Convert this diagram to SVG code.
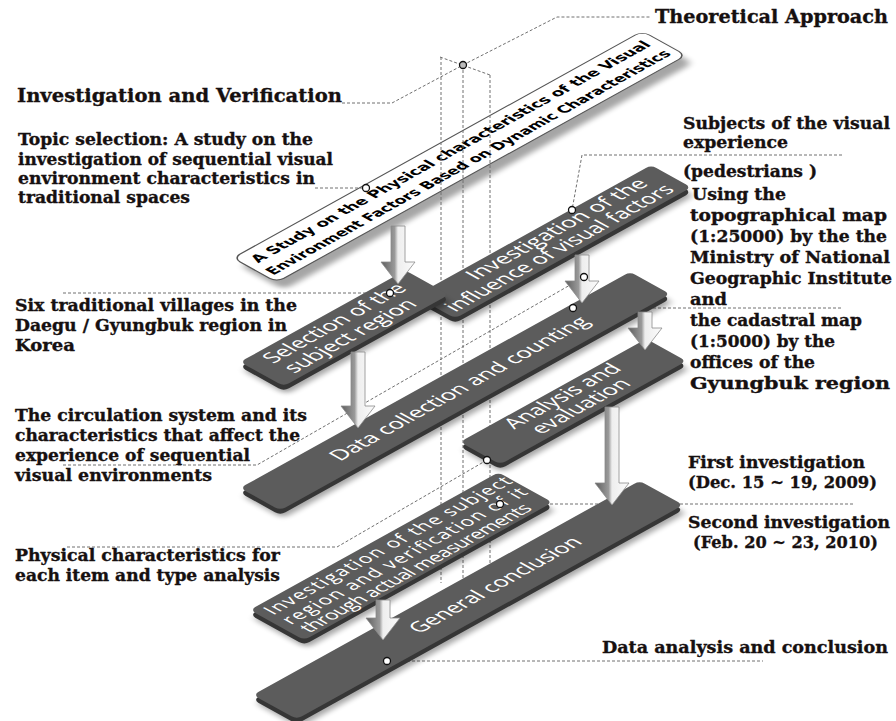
<svg xmlns="http://www.w3.org/2000/svg" width="896" height="721" viewBox="0 0 896 721">
<defs>
<style>
.lbl{font-family:"DejaVu Serif","Liberation Serif",serif;font-weight:bold;fill:#161010;stroke:#161010;stroke-width:0.35;font-size:16.5px}
.hd{font-size:19px}
.bt{font-family:"Open Sans","Noto Sans","DejaVu Sans",sans-serif;fill:#ffffff;font-size:21px;text-anchor:middle}
.bn{font-family:"DejaVu Sans","Liberation Sans",sans-serif;font-weight:bold;font-size:15px;fill:#000;text-anchor:middle}
.top{fill:#5c5c5c}
.side{fill:#363636}
.shd{fill:#000;opacity:.35;filter:url(#blur)}
.ln{fill:none;stroke:#707070;stroke-width:1;stroke-dasharray:3 2}
.dot{fill:#fff;stroke:#111;stroke-width:1.3}
.arr{fill:url(#ag);stroke:#8a8a8a;stroke-width:.8}
</style>
<filter id="blur" x="-20%" y="-60%" width="140%" height="220%"><feGaussianBlur stdDeviation="3"/></filter>
<linearGradient id="ag" x1="0" y1="0" x2="1" y2="0">
<stop offset="0" stop-color="#5e5e5e"/>
<stop offset="0.4" stop-color="#9a9a9a"/>
<stop offset="0.5" stop-color="#eeeeee"/>
<stop offset="1" stop-color="#fbfbfb"/>
</linearGradient>
</defs>
<rect width="896" height="721" fill="#fff"/>

<g id="banner" transform="matrix(0.8746 -0.4848 0.8746 0.4848 233 258)">
<rect class="shd" x="-4" y="12" width="468" height="50" rx="8"/>
<rect width="468" height="50" rx="8" fill="#fff" stroke="#555" stroke-width="1.3"/>
<text class="bn" x="234" y="20" textLength="450" lengthAdjust="spacingAndGlyphs">A Study on the Physical characteristics of the Visual</text>
<text class="bn" x="233" y="41" textLength="456" lengthAdjust="spacingAndGlyphs">Environment Factors Based on Dynamic Characteristics</text>
</g>

<g id="connectors">
<polyline class="ln" points="342,103 392,103 463,65"/>
<polyline class="ln" points="463,65 557,17 650,17"/>
<polyline class="ln" points="440,57 490,75"/>
<polyline class="ln" points="441,57 441,583"/>
<polyline class="ln" points="463,65 463,583"/>
<polyline class="ln" points="490,75 490,607"/>
<polyline class="ln" points="315,188 366,188"/>
<polyline class="ln" points="63,293 390,293"/>
<polyline class="ln" points="63,465 257,465 584,277"/>
<polyline class="ln" points="67,547 337,547 487,460"/>
<polyline class="ln" points="500,504 853,504"/>
<polyline class="ln" points="573,308 843,308"/>
<polyline class="ln" points="842,155 582,155 572,210"/>
<polyline class="ln" points="387,661 763,661"/>
</g>

<g id="invest-visual" transform="matrix(0.8746 -0.4848 0.8746 0.4848 415 296)">
<rect class="shd" x="-7" y="10" width="270" height="46" rx="6"/>
<rect class="side" x="-5" y="5" width="270" height="46" rx="6"/>
<rect class="top" width="270" height="46" rx="6"/>
<text class="bt" x="150" y="19" textLength="198" lengthAdjust="spacingAndGlyphs">Investigation of the</text>
<text class="bt" x="132" y="40" textLength="252" lengthAdjust="spacingAndGlyphs">influence of visual factors</text>
</g>

<g id="selection" transform="matrix(0.8746 -0.4848 0.8746 0.4848 240 362)">
<rect class="shd" x="-7" y="10" width="189" height="50" rx="6"/>
<rect class="side" x="-5" y="5" width="189" height="50" rx="6"/>
<rect class="top" width="189" height="50" rx="6"/>
<text class="bt" x="94" y="21" textLength="154" lengthAdjust="spacingAndGlyphs">Selection of the</text>
<text class="bt" x="90" y="43" textLength="142" lengthAdjust="spacingAndGlyphs">subject region</text>
</g>

<g id="data-collection" transform="matrix(0.8746 -0.4848 0.8746 0.4848 240 488)">
<rect class="shd" x="-7" y="10" width="446" height="46" rx="6"/>
<rect class="side" x="-5" y="5" width="446" height="46" rx="6"/>
<rect class="top" width="446" height="46" rx="6"/>
<text class="bt" x="228" y="30" textLength="287" lengthAdjust="spacingAndGlyphs">Data collection and counting</text>
</g>

<g id="analysis" transform="matrix(0.8746 -0.4848 0.8746 0.4848 460 442)">
<rect class="shd" x="-7" y="10" width="213" height="46" rx="6"/>
<rect class="side" x="-5" y="5" width="213" height="46" rx="6"/>
<rect class="top" width="213" height="46" rx="6"/>
<text class="bt" x="106" y="18" textLength="124" lengthAdjust="spacingAndGlyphs">Analysis and</text>
<text class="bt" x="106" y="39" textLength="104" lengthAdjust="spacingAndGlyphs">evaluation</text>
</g>

<g id="general-conclusion" transform="matrix(0.8746 -0.4848 0.8746 0.4848 253 695)">
<rect class="shd" x="-7" y="10" width="442" height="50" rx="6"/>
<rect class="side" x="-5" y="5" width="442" height="50" rx="6"/>
<rect class="top" width="442" height="50" rx="6"/>
<text class="bt" x="252" y="32" textLength="188" lengthAdjust="spacingAndGlyphs">General conclusion</text>
</g>

<g id="subject-region" transform="matrix(0.8746 -0.4848 0.8746 0.4848 250 610)">
<rect class="shd" x="-7" y="10" width="284" height="62" rx="6"/>
<rect class="side" x="-5" y="5" width="284" height="62" rx="6"/>
<rect class="top" width="284" height="62" rx="6"/>
<text class="bt" style="font-size:19px" x="145" y="19" textLength="275" lengthAdjust="spacing">Investigation  of  the  subject</text>
<text class="bt" style="font-size:19px" x="144" y="39" textLength="272" lengthAdjust="spacing">region  and  verification  of  it</text>
<text class="bt" style="font-size:19px" x="138" y="58" textLength="256" lengthAdjust="spacing">through actual measurements</text>
</g>

<g id="arrows">
<path class="arr" d="M391 226H405V262H415L398 284L381 262H391Z"/>
<path class="arr" d="M575 255H589V281H599L582 303L565 281H575Z"/>
<path class="arr" d="M351 352H365V406H375L358 428L341 406H351Z"/>
<path class="arr" d="M638 312H652V328H662L645 350L628 328H638Z"/>
<path class="arr" d="M605 407H619V483H629L612 505L595 483H605Z"/>
<path class="arr" d="M376 600H390V618H400L383 640L366 618H376Z"/>
</g>

<g id="connector-ends">
<circle class="dot" cx="463" cy="65" r="3.5" style="fill:#bbb"/>
<circle class="dot" cx="366" cy="188" r="3.5"/>
<circle class="dot" cx="390" cy="293" r="3.5"/>
<circle class="dot" cx="572" cy="210" r="3.5"/>
<circle class="dot" cx="584" cy="277" r="3.5"/>
<circle class="dot" cx="573" cy="308" r="3.5"/>
<circle class="dot" cx="487" cy="460" r="3.5"/>
<circle class="dot" cx="500" cy="504" r="3.5"/>
<circle class="dot" cx="387" cy="661" r="3.5"/>
</g>

<g id="labels-left">
<text class="lbl hd" x="17" y="102" textLength="325" lengthAdjust="spacingAndGlyphs">Investigation and Verification</text>
<text class="lbl" x="18" y="145" textLength="295" lengthAdjust="spacingAndGlyphs">Topic selection: A study on the</text>
<text class="lbl" x="18" y="165" textLength="315" lengthAdjust="spacingAndGlyphs">investigation of sequential visual</text>
<text class="lbl" x="18" y="184" textLength="297" lengthAdjust="spacingAndGlyphs">environment characteristics in</text>
<text class="lbl" x="18" y="203" textLength="172" lengthAdjust="spacingAndGlyphs">traditional spaces</text>
<text class="lbl" x="15" y="311" textLength="282" lengthAdjust="spacingAndGlyphs">Six traditional villages in the</text>
<text class="lbl" x="15" y="331" textLength="272" lengthAdjust="spacingAndGlyphs">Daegu / Gyungbuk region in</text>
<text class="lbl" x="15" y="351" textLength="60" lengthAdjust="spacingAndGlyphs">Korea</text>
<text class="lbl" x="15" y="421" textLength="292" lengthAdjust="spacingAndGlyphs">The circulation system and its</text>
<text class="lbl" x="15" y="441" textLength="285" lengthAdjust="spacingAndGlyphs">characteristics that affect the</text>
<text class="lbl" x="15" y="461" textLength="235" lengthAdjust="spacingAndGlyphs">experience of sequential</text>
<text class="lbl" x="15" y="481" textLength="197" lengthAdjust="spacingAndGlyphs">visual environments</text>
<text class="lbl" x="15" y="561" textLength="265" lengthAdjust="spacingAndGlyphs">Physical characteristics for</text>
<text class="lbl" x="15" y="581" textLength="265" lengthAdjust="spacingAndGlyphs">each item and type analysis</text>
</g>

<g id="labels-right">
<text class="lbl hd" x="655" y="23" textLength="233" lengthAdjust="spacingAndGlyphs">Theoretical Approach</text>
<text class="lbl" x="683" y="129" textLength="207" lengthAdjust="spacingAndGlyphs">Subjects of the visual</text>
<text class="lbl" x="683" y="148" textLength="105" lengthAdjust="spacingAndGlyphs">experience</text>
<text class="lbl" x="683" y="177" textLength="134" lengthAdjust="spacingAndGlyphs">(pedestrians )</text>
<text class="lbl" x="692" y="200" textLength="94" lengthAdjust="spacingAndGlyphs">Using the</text>
<text class="lbl" x="690" y="221" textLength="197" lengthAdjust="spacingAndGlyphs">topographical map</text>
<text class="lbl" x="690" y="242" textLength="197" lengthAdjust="spacingAndGlyphs">(1:25000) by the the</text>
<text class="lbl" x="690" y="263" textLength="200" lengthAdjust="spacingAndGlyphs">Ministry of National</text>
<text class="lbl" x="690" y="284" textLength="202" lengthAdjust="spacingAndGlyphs">Geographic Institute</text>
<text class="lbl" x="690" y="305" textLength="37" lengthAdjust="spacingAndGlyphs">and</text>
<text class="lbl" x="690" y="326" textLength="172" lengthAdjust="spacingAndGlyphs">the cadastral map</text>
<text class="lbl" x="690" y="347" textLength="145" lengthAdjust="spacingAndGlyphs">(1:5000) by the</text>
<text class="lbl" x="690" y="368" textLength="125" lengthAdjust="spacingAndGlyphs">offices of the</text>
<text class="lbl" x="690" y="389" textLength="200" lengthAdjust="spacingAndGlyphs">Gyungbuk region</text>
<text class="lbl" x="688" y="468" textLength="177" lengthAdjust="spacingAndGlyphs">First investigation</text>
<text class="lbl" x="688" y="488" textLength="189" lengthAdjust="spacingAndGlyphs">(Dec. 15 ~ 19, 2009)</text>
<text class="lbl" x="688" y="528" textLength="202" lengthAdjust="spacingAndGlyphs">Second investigation</text>
<text class="lbl" x="693" y="548" textLength="185" lengthAdjust="spacingAndGlyphs">(Feb. 20 ~ 23, 2010)</text>
<text class="lbl" x="602" y="653" textLength="286" lengthAdjust="spacingAndGlyphs">Data analysis and conclusion</text>
</g>
</svg>
